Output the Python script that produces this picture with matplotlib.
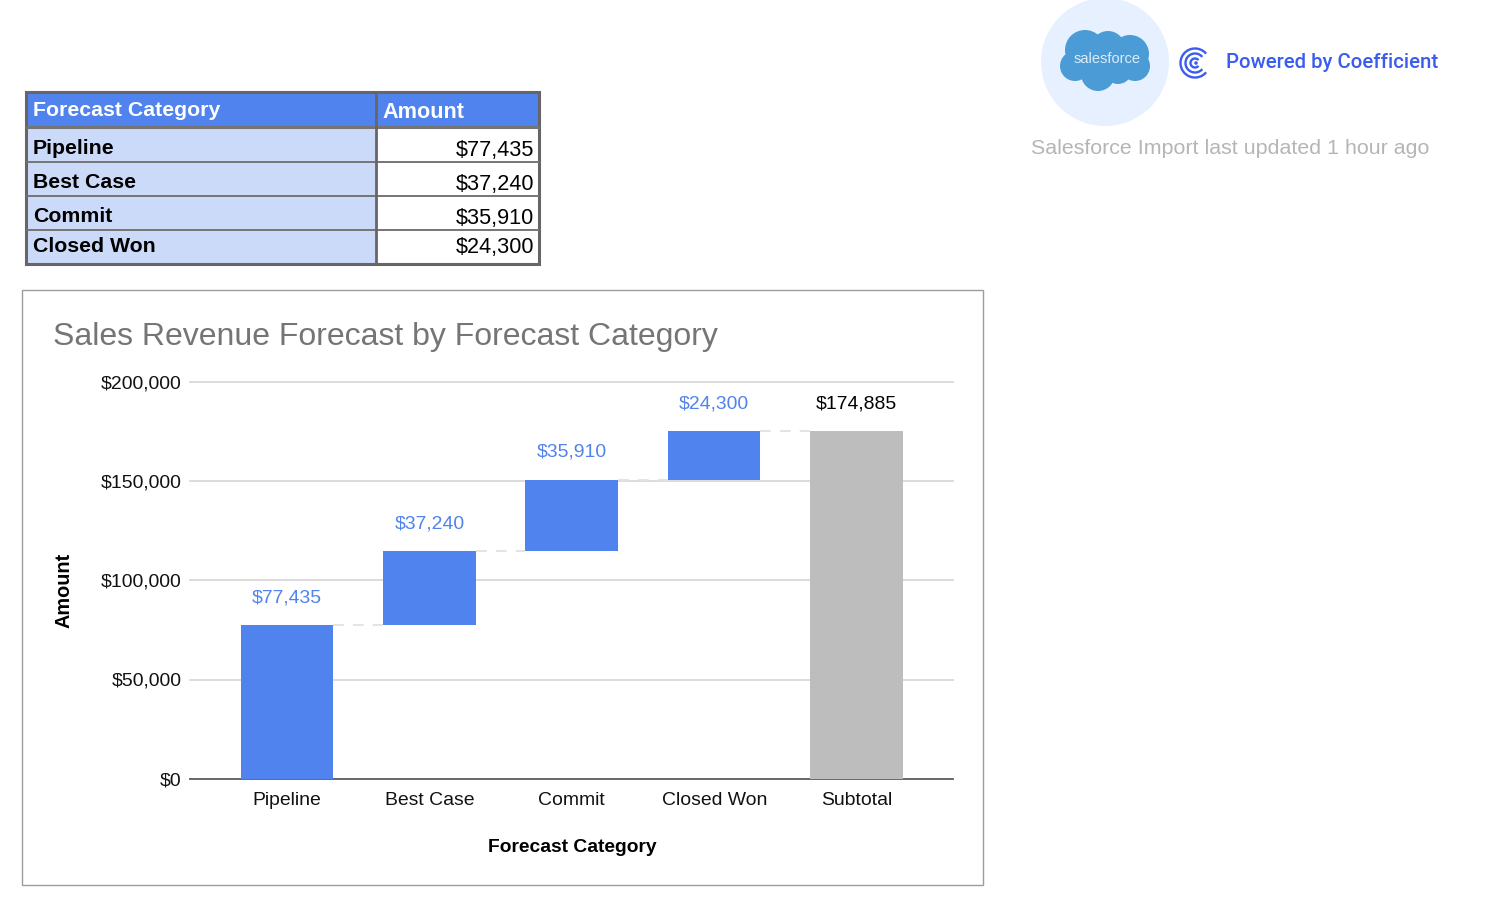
import matplotlib
matplotlib.use("Agg")
import matplotlib.pyplot as plt
from matplotlib.patches import Rectangle, Circle, Arc

plt.rcParams['font.family'] = ['Liberation Sans', 'DejaVu Sans']

table_header = ["Forecast Category", "Amount"]
categories = ["Pipeline", "Best Case", "Commit", "Closed Won"]
amounts = [77435, 37240, 35910, 24300]
subtotal_label = "Subtotal"
yticks = [0, 50000, 100000, 150000, 200000]
title = "Sales Revenue Forecast by Forecast Category"
xlabel = "Forecast Category"
ylabel = "Amount"
coef_text = "Powered by Coefficient"
updated_text = "Salesforce Import last updated 1 hour ago"

W, H = 1492, 918
BLUE = "#5083ee"
GREY = "#bdbdbd"
money = lambda v: f"${v:,.0f}"

fig = plt.figure(figsize=(W/100, H/100), dpi=100, facecolor="white")

# page-level pixel overlay
pg = fig.add_axes([0, 0, 1, 1])
pg.set_xlim(0, W); pg.set_ylim(H, 0); pg.axis("off")

# table
row_edges = [91.5, 127, 162, 196, 230, 264]
col_edges = [25.5, 376, 538.5]
label_y = [110.5, 149, 183, 217, 247]
value_y = [111, 150.5, 184.5, 218.5, 248]
for i in range(5):
    y0, y1 = row_edges[i], row_edges[i+1]
    left = BLUE if i == 0 else "#ccdafa"
    right = BLUE if i == 0 else "white"
    pg.add_patch(Rectangle((col_edges[0], y0), col_edges[1]-col_edges[0], y1-y0, fc=left, ec="none"))
    pg.add_patch(Rectangle((col_edges[1], y0), col_edges[2]-col_edges[1], y1-y0, fc=right, ec="none"))
for y in row_edges[1:-1]:
    lw = 2.2 if y == row_edges[1] else 1.4
    pg.plot(col_edges[:1]+col_edges[-1:], [y, y], color="#757575", lw=lw, solid_capstyle="butt")
pg.plot([col_edges[1]]*2, [row_edges[0], row_edges[-1]], color="#666666", lw=2.0, solid_capstyle="butt")
pg.add_patch(Rectangle((col_edges[0], row_edges[0]), col_edges[2]-col_edges[0], row_edges[-1]-row_edges[0],
                       fc="none", ec="#666666", lw=2.2))
pg.text(33, label_y[0], table_header[0], color="white", fontsize=15.3, fontweight="bold", va="center", ha="left")
pg.text(382.5, value_y[0]+1, table_header[1], color="white", fontsize=15.6, fontweight="bold", va="center", ha="left")
for k, (c, a) in enumerate(zip(categories, amounts)):
    pg.text(33, label_y[k+1], c, color="black", fontsize=15.3, fontweight="bold", va="center", ha="left")
    pg.text(534, value_y[k+1], money(a), color="black", fontsize=15.6, va="center", ha="right")

# chart frame
pg.add_patch(Rectangle((22, 290), 961, 595, fc="white", ec="#9e9e9e", lw=1))
pg.text(53, 337.5, title, color="#757575", fontsize=23.0, va="center", ha="left")
pg.text(572, 847, xlabel, color="black", fontsize=13.85, fontweight="bold", va="center", ha="center")
pg.text(63.5, 590, ylabel, color="black", fontsize=14.3, fontweight="bold", va="center", ha="center", rotation=90)

# salesforce badge
pg.add_patch(Circle((1105, 62), 64, fc="#e6f0fe", ec="none"))
for cx, cy, r in [(1085, 50, 20), (1108, 48, 17), (1130, 54, 19), (1075, 66, 15),
                  (1098, 74, 17), (1118, 70, 14), (1135, 66, 15)]:
    pg.add_patch(Circle((cx, cy), r, fc="#4b9cd6", ec="none"))
pg.text(1107, 59, "salesforce", color="#dcecf8", fontsize=10.5, va="center", ha="center")

# coefficient icon
for r in [14.5, 9.5, 4.5]:
    pg.add_patch(Arc((1195, 63), 2*r, 2*r, theta1=40, theta2=320, color="#3a5cf0", lw=1.7))
pg.add_patch(Circle((1196, 63), 1.8, fc="#3a5cf0", ec="none"))
pg.text(1226, 63, coef_text, color="#3a5cf0", fontsize=14.7, fontweight="medium", va="center", ha="left",
        family=["Roboto", "Liberation Sans"])
pg.text(1031, 149, updated_text, color="#b5b5b5", fontsize=15.42, va="center", ha="left")

# waterfall chart
ax = fig.add_axes([190/W, 1-778.8/H, (953.5-190)/W, (778.8-381.6)/H], facecolor="none")
labels = categories + [subtotal_label]
ax.set_xlim(-0.68, 4.68)
ax.set_ylim(yticks[0], yticks[-1])
ax.set_yticks(yticks)
ax.set_yticklabels([money(v) for v in yticks])
ax.set_xticks(range(len(labels)))
ax.set_xticklabels(labels)
ax.tick_params(length=0, labelsize=13.95, labelcolor="#111111")
ax.tick_params(axis="y", pad=6)
ax.tick_params(axis="x", pad=9.5)
ax.grid(axis="y", color="#d9d9d9", lw=1.3, zorder=0)
for gl in ax.get_ygridlines():
    gl.set_clip_on(False)
ax.set_axisbelow(True)
for s in ["top", "left", "right"]:
    ax.spines[s].set_visible(False)
ax.spines["bottom"].set_color("#5f5f5f")
ax.spines["bottom"].set_linewidth(1.3)

bar_w = 0.65
run = 0
for i, a in enumerate(amounts):
    ax.bar(i, a, bottom=run, width=bar_w, color=BLUE, zorder=3)
    run += a
    ax.plot([i + bar_w/2, i + 1 - bar_w/2], [run, run], color="#e2e2e2", lw=1.3, ls=(0, (6, 5)), zorder=2)
    ax.annotate(money(a), (i, run), xytext=(0, 19), textcoords="offset pixels", ha="center", va="bottom",
                color=BLUE, fontsize=13.95)
ax.bar(len(amounts), run, width=bar_w, color=GREY, zorder=3)
ax.annotate(money(run), (len(amounts), run), xytext=(0, 19), textcoords="offset pixels", ha="center", va="bottom",
            color="black", fontsize=13.95)

fig.savefig("out.png", dpi=100)
